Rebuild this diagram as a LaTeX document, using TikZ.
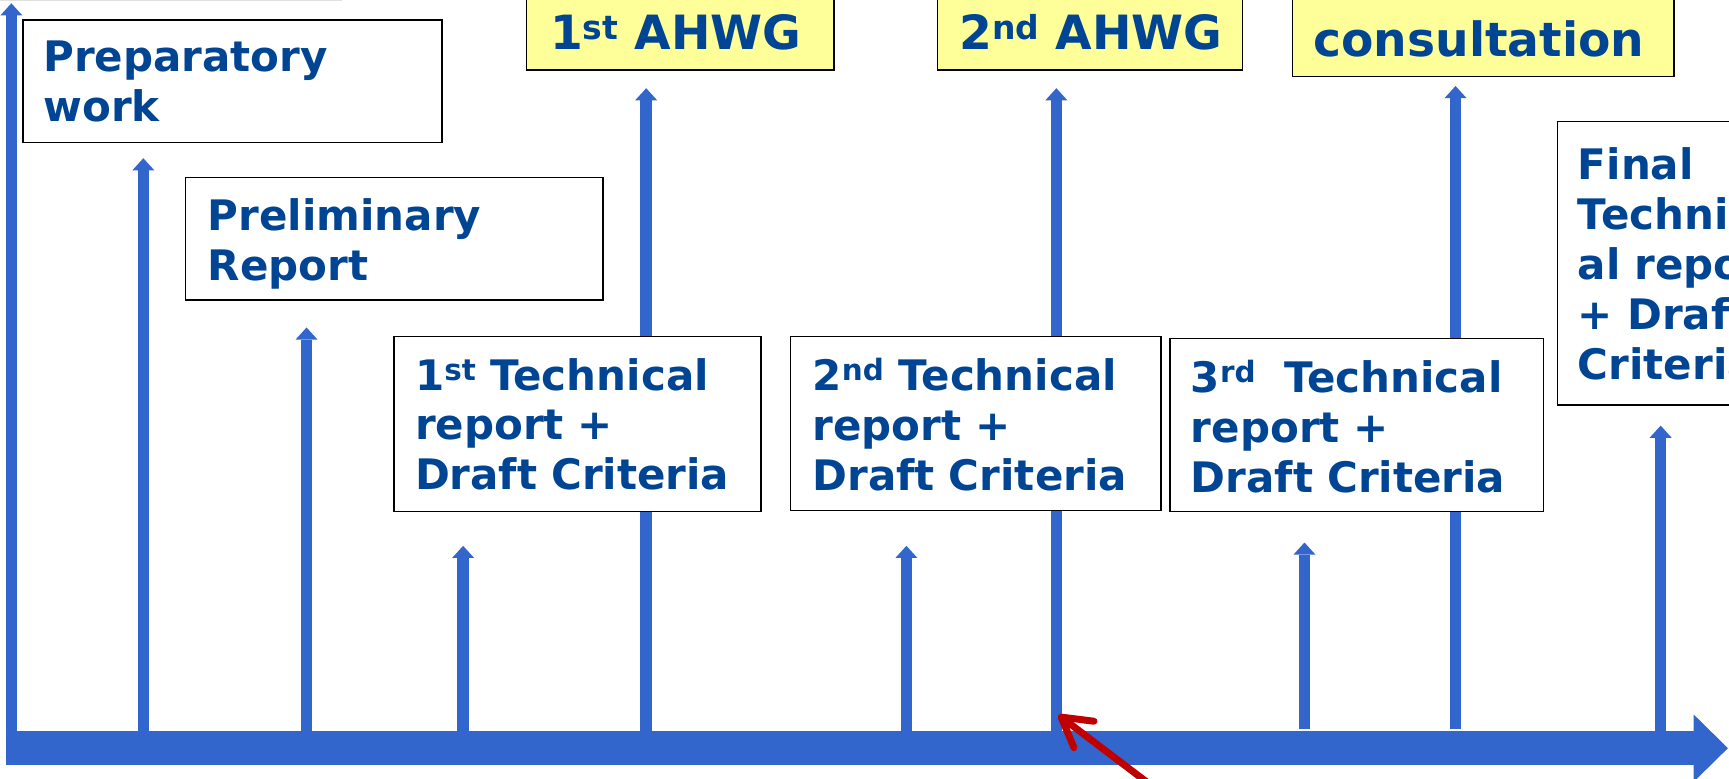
\documentclass[tikz,border=0pt]{standalone}
\usepackage{fontspec}
\setmainfont{DejaVu Sans}
\usetikzlibrary{arrows.meta}
\definecolor{lineblue}{RGB}{51,102,204}
\definecolor{textblue}{RGB}{0,69,148}
\definecolor{noteyellow}{RGB}{255,255,153}
\definecolor{pointred}{RGB}{192,0,0}
\tikzset{timeline/.style={lineblue,line width=31pt,-{Triangle[length=31pt,width=61pt,line width=0pt]}},
         milestone/.style={lineblue,line width=10.5pt,-{Triangle[length=11pt,width=20pt,line width=0pt]}},
         card/.style={draw=black,line width=1.3pt,fill=white,anchor=north west,outer sep=0pt,inner ysep=0pt,
                      align=left,text=textblue,font=\bfseries\fontsize{38.1}{45.3}\selectfont},
         meeting/.style={card,fill=noteyellow,font=\bfseries\fontsize{42.8}{51}\selectfont},
         pointer/.style={pointred,line width=6.3pt,-{Straight Barb[length=26pt,width=30pt,round]}},
        }

\begin{document}
\begin{tikzpicture}[x=1pt,y=-1pt]
        \useasboundingbox (0,0) rectangle (1568,706.4);
        \draw[black!12,line width=1pt](0,0.8)--(310,0.8);
        % milestones: x / foot / tip
        \foreach \x/\b/\t in {10.3/678/3,130/678/143.5,278/678/297,420/678/495,586/678/80,
                              822/678/495,958/678/80,1183/661/492,1320/661/78,1506/678/386}
          \draw[milestone](\x,\b)--(\x,\t);
        \coordinate(t0)at(5,678.5);
        \coordinate(t1)at(1567,678.5);
        \draw[timeline](t0)--(t1);
        \node[card,inner xsep=18.3pt,text width=343.4pt,text height=47pt,text depth=64pt](prep)at(21,18){Preparatory\\work};
        \node[card,inner xsep=20.6pt,text width=337.8pt,text height=48pt,text depth=63pt](prelim)at(168,161){Preliminary\\Report};
        \node[meeting,inner xsep=21.2pt,text width=236.3pt,text height=64.7pt,text depth=18.8pt](ahwg1)at(477.6,-20){\mbox{1\textsuperscript{st} AHWG}};
        \node[meeting,inner xsep=20pt,text width=237pt,text height=64.7pt,text depth=18.8pt](ahwg2)at(850,-20){\mbox{2\textsuperscript{nd} AHWG}};
        \node[meeting,inner xsep=18.7pt,text width=308.3pt,text height=71.4pt,text depth=18.1pt](consult)at(1172.3,-20){consultation};
        \node[card,inner xsep=19.1pt,text width=294.5pt,text height=48.4pt,text depth=110.3pt](tech1)at(357.3,305.3){1\textsuperscript{st} Technical\\report +\\Draft Criteria};
        \node[card,inner xsep=20pt,text width=296pt,text height=49pt,text depth=109pt](tech2)at(717,305){2\textsuperscript{nd} Technical\\report +\\Draft Criteria};
        \node[card,inner xsep=19pt,text width=301pt,text height=49pt,text depth=108pt](tech3)at(1061,307){3\textsuperscript{rd}\ \ Technical\\report +\\Draft Criteria};
        \node[card,inner xsep=18.7pt,text width=350.3pt,text height=52.7pt,text depth=204.3pt](final)at(1412.3,110.3){Final\\Technic\\al report\\+ Draft\\Criteria};
        \coordinate(hit)at(959.8,648.4);
        \coordinate(redtail)at(1045,713);
        \draw[pointer](redtail)--(hit);
\end{tikzpicture}
\end{document}
